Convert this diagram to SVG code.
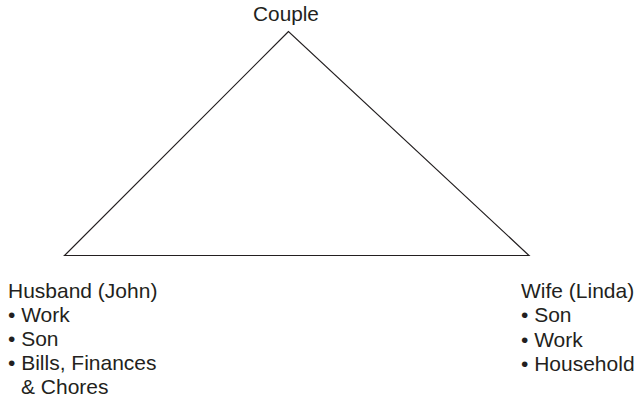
<svg xmlns="http://www.w3.org/2000/svg" width="638" height="404" viewBox="0 0 638 404">
<style>
text{font-family:"Liberation Sans",Arial,sans-serif;font-size:20px;fill:#231f20}
.edge{stroke:#231f20;stroke-width:1.2;fill:none;stroke-linejoin:miter}
</style>
<rect width="638" height="404" fill="#ffffff"/>
<g id="connectors">
<path class="edge" d="M288.5,31.5 L64.5,255.5 L529,255.5 Z"/>
</g>
<g id="couple" transform="translate(286,0) scale(1.04,1)">
<text x="0" y="21" text-anchor="middle">Couple</text>
</g>
<g id="husband" transform="translate(8,0) scale(1.05,1)">
<text x="0" y="298">Husband (John)</text>
<text x="0" y="322">• Work</text>
<text x="0" y="346">• Son</text>
<text x="0" y="370">• Bills, Finances</text>
<text x="12.4" y="394">&amp; Chores</text>
</g>
<g id="wife" transform="translate(521,0) scale(1.05,1)">
<text x="0" y="298">Wife (Linda)</text>
<text x="0" y="322">• Son</text>
<text x="0" y="347">• Work</text>
<text x="0" y="371">• Household</text>
</g>
</svg>
